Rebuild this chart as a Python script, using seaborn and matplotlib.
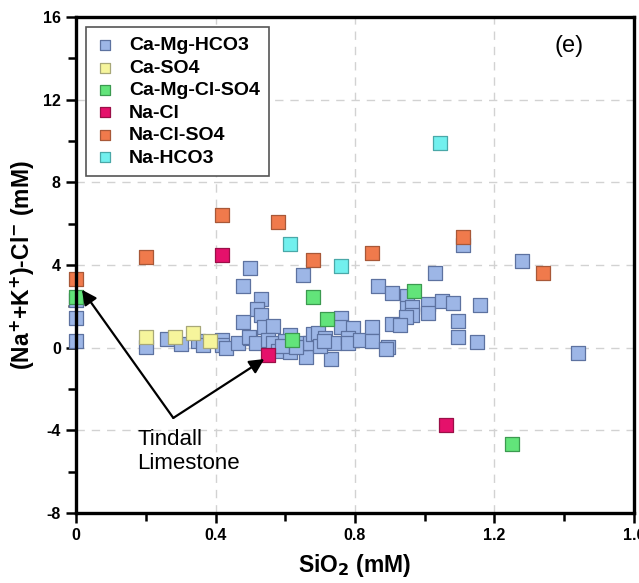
import matplotlib
matplotlib.use("Agg")
import matplotlib.pyplot as plt
import seaborn as sns
import pandas as pd
from matplotlib.ticker import MultipleLocator

sns.set_style("white")
plt.rcParams['font.family'] = ['Liberation Sans', 'DejaVu Sans']
plt.rcParams['text.color'] = 'black'
plt.rcParams['axes.labelcolor'] = 'black'
plt.rcParams['xtick.color'] = 'black'
plt.rcParams['ytick.color'] = 'black'

categories = ["Ca-Mg-HCO3", "Ca-SO4", "Ca-Mg-Cl-SO4", "Na-Cl", "Na-Cl-SO4", "Na-HCO3"]

ca_mg_hco3_x = [0, 0, 0, 0.2, 0.26, 0.30, 0.35, 0.365, 0.42, 0.42, 0.43, 0.465,
                0.50, 0.48, 0.53, 0.52, 0.53, 0.48, 0.54, 0.565, 0.50, 0.495, 0.515, 0.55, 0.565,
                0.65, 0.615, 0.58, 0.615, 0.66, 0.73, 0.645, 0.67, 0.68, 0.695, 0.715, 0.74,
                0.76, 0.76, 0.795, 0.78, 0.78, 0.815, 0.85, 0.85, 0.60, 0.59, 0.63, 0.70, 0.71,
                0.865, 0.905, 0.95, 0.95, 0.965, 0.965, 0.945, 0.905, 0.93, 0.895, 0.89,
                1.01, 1.01, 1.05, 1.08, 1.16, 1.03, 1.095, 1.095, 1.15, 1.11, 1.28, 1.44]
ca_mg_hco3_y = [2.3, 1.45, 0.33, 0.03, 0.4, 0.18, 0.33, 0.13, 0.37, 0.13, 0.0, 0.22,
                3.87, 3.0, 2.35, 1.85, 1.6, 1.25, 1.0, 1.05, 0.46, 0.52, 0.23, 0.37, 0.23,
                3.5, 0.6, -0.15, -0.2, -0.45, -0.55, 0.23, 0.23, 0.65, 0.7, 0.45, 0.23,
                1.45, 1.0, 0.95, 0.47, 0.23, 0.37, 1.0, 0.33, 0.3, 0.1, 0.05, 0.1, 0.3,
                3.0, 2.65, 2.5, 1.9, 1.95, 1.6, 1.5, 1.15, 1.1, 0.05, -0.05,
                2.1, 1.7, 2.25, 2.15, 2.05, 3.6, 1.3, 0.5, 0.25, 4.95, 4.2, -0.25]

ca_so4_x = [0.2, 0.285, 0.335, 0.385]
ca_so4_y = [0.5, 0.5, 0.7, 0.3]

ca_mg_cl_so4_x = [0, 0.68, 0.72, 0.97, 1.25, 0.62]
ca_mg_cl_so4_y = [2.45, 2.45, 1.4, 2.75, -4.65, 0.37]

na_cl_x = [0.42, 0.55, 1.06]
na_cl_y = [4.5, -0.35, -3.75]

na_cl_so4_x = [0, 0.2, 0.42, 0.58, 0.68, 0.85, 1.11, 1.34]
na_cl_so4_y = [3.3, 4.4, 6.4, 6.1, 4.25, 4.6, 5.35, 3.6]

na_hco3_x = [1.045, 0.615, 0.76]
na_hco3_y = [9.9, 5.0, 3.95]

xs = [ca_mg_hco3_x, ca_so4_x, ca_mg_cl_so4_x, na_cl_x, na_cl_so4_x, na_hco3_x]
ys = [ca_mg_hco3_y, ca_so4_y, ca_mg_cl_so4_y, na_cl_y, na_cl_so4_y, na_hco3_y]

faces = ["#9db6e6", "#f6f59c", "#62e47a", "#e5116b", "#f07a4c", "#72f0ee"]
edges = ["#5d72a0", "#a8a878", "#3c9a50", "#9a1048", "#a85838", "#4aa8a8"]

frames = []
for c, x, y in zip(categories, xs, ys):
    frames.append(pd.DataFrame({"SiO2": x, "val": y, "type": c}))
df = pd.concat(frames, ignore_index=True)

fig = plt.figure(figsize=(6.39, 5.83), dpi=100)
ax = fig.add_axes([0.119, 0.12, 0.873, 0.851])

for c, fc, ec in zip(categories, faces, edges):
    sub = df[df["type"] == c]
    sns.scatterplot(data=sub, x="SiO2", y="val", marker="s", s=90, color=fc,
                    edgecolor=ec, linewidth=0.9, ax=ax, label=c, zorder=3, clip_on=False)

ax.set_xlim(0, 1.6)
ax.set_ylim(-8, 16)
ax.xaxis.set_minor_locator(MultipleLocator(0.2))
ax.yaxis.set_minor_locator(MultipleLocator(2))
ax.set_xticks([0, 0.4, 0.8, 1.2, 1.6])
ax.set_xticklabels(["0", "0.4", "0.8", "1.2", "1.6"])
ax.set_yticks([-8, -4, 0, 4, 8, 12, 16])
ax.set_yticklabels(["-8", "-4", "0", "4", "8", "12", "16"])

ax.grid(True, which="major", linestyle=(0, (6, 5)), color="#d2d2d2", linewidth=1.0)
ax.set_axisbelow(True)
for sp in ax.spines.values():
    sp.set_linewidth(2.4)
    sp.set_color("black")
    sp.set_zorder(4)
ax.tick_params(which="major", direction="out", length=7, width=1.8, labelsize=11.5,
               bottom=True, left=True, pad=4)
ax.tick_params(which="minor", direction="out", length=6, width=1.8, bottom=True, left=True)
for lab in ax.get_xticklabels() + ax.get_yticklabels():
    lab.set_fontweight("bold")

ax.set_xlabel("SiO$_\\mathbf{2}$ (mM)", fontsize=16.5, fontweight="bold", labelpad=6)
ax.set_ylabel("(Na$^\\mathbf{+}$+K$^\\mathbf{+}$)-Cl$^\\mathbf{-}$ (mM)", fontsize=16.5,
              fontweight="bold", labelpad=4)

leg = ax.legend(loc="upper left", bbox_to_anchor=(0.018, 0.98), borderaxespad=0,
                frameon=True, fancybox=False, edgecolor="#555555", framealpha=1,
                prop={"weight": "bold", "size": 14}, labelspacing=0.25,
                handlelength=0.9, handletextpad=0.8, borderpad=0.5, markerscale=0.8)
leg.get_frame().set_linewidth(1.2)
leg.set_zorder(6)

ax.text(1.415, 14.6, "(e)", fontsize=17, ha="center", va="center")

start = (0.279, -3.4)
for tip in [(0.017, 2.8), (0.54, -0.55)]:
    ax.annotate("", xy=tip, xytext=start,
                arrowprops=dict(arrowstyle="-|>", color="black", lw=1.6,
                                mutation_scale=22, shrinkA=0, shrinkB=0), zorder=5)
ax.text(0.175, -3.95, "Tindall\nLimestone", fontsize=16, ha="left", va="top",
        linespacing=1.15)

fig.savefig("out.png", dpi=100)
